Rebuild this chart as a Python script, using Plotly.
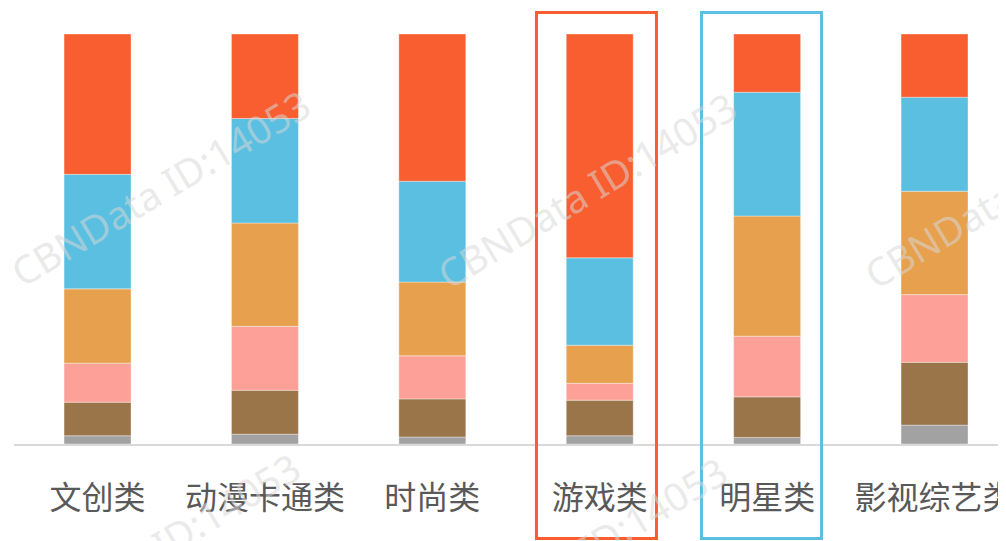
import plotly.graph_objects as go

# ---- data (percent share of each segment) ----
categories = ["文创类", "动漫卡通类", "时尚类", "游戏类", "明星类", "影视综艺类"]
series_names = ["类别A", "类别B", "类别C", "类别D", "类别E", "类别F"]
gray_vals = [2.0, 2.4, 1.7, 2.0, 1.6, 4.6]
brown_vals = [8.2, 10.7, 9.3, 8.7, 9.9, 15.3]
pink_vals = [9.5, 15.6, 10.5, 4.1, 14.8, 16.5]
tan_vals = [18.1, 25.2, 18.0, 9.3, 29.3, 25.2]
blue_vals = [27.9, 25.5, 24.6, 21.3, 30.2, 22.9]
red_vals = [34.2, 20.6, 35.9, 54.6, 14.2, 15.4]

watermark_text = "CBNData ID:14053"

# ---- styles ----
series_values = [gray_vals, brown_vals, pink_vals, tan_vals, blue_vals, red_vals]
series_colors = ["#A3A2A3", "#9A754A", "#FDA097", "#E6A04E", "#5ABFE0", "#F85E2F"]
label_font = "Noto Sans CJK SC, Noto Sans, sans-serif"

# page geometry (the page body adds an 8px offset)
OFF = 8
W, H = 998, 533
PAGE_R, PAGE_B = OFF + W, OFF + H
plot_left, plot_right, plot_top, plot_bottom = 14, 1006, 34, 444

fig = go.Figure()

# stacked 100% bars
totals = [sum(vals[i] for vals in series_values) for i in range(len(categories))]
cum = [0.0] * len(categories)
for name, vals, col in zip(series_names, series_values, series_colors):
    pct = [v / t * 100 for v, t in zip(vals, totals)]
    fig.add_trace(go.Bar(
        x=categories, y=pct, base=list(cum), width=0.4, name=name,
        xaxis="x2", yaxis="y2",
        marker=dict(color=col, line=dict(width=0.6, color="rgba(255,255,255,0.6)")),
        hovertemplate="%{x}<br>" + name + ": %{y:.1f}%<extra></extra>",
        showlegend=False,
    ))
    cum = [c + p for c, p in zip(cum, pct)]

# highlight boxes around 游戏类 and 明星类
box_top, box_bottom = 12.5, min(538.5, PAGE_B - 2)
fig.add_shape(type="rect", xref="x2", yref="y",
              x0=2.622, x1=3.339, y0=box_top, y1=box_bottom,
              line=dict(color="#F85E2F", width=3), layer="above")
fig.add_shape(type="rect", xref="x2", yref="y",
              x0=3.608, x1=4.325, y0=box_top, y1=box_bottom,
              line=dict(color="#5ABFE0", width=3), layer="above")

# translucent watermark tiles (page-pixel centres converted to paper fractions)
wm_cx = [160, 587, 1014, 150, 577]
wm_cy = [187, 190, 190, 550, 554]
for cx, cy in zip(wm_cx, wm_cy):
    fig.add_annotation(
        xref="paper", yref="paper",
        x=(cx - OFF) / W, y=(PAGE_B - cy) / H,
        xanchor="center", yanchor="middle",
        text=watermark_text, showarrow=False, textangle=-31,
        font=dict(family="Noto Sans, sans-serif", size=39, color="rgba(216,216,216,0.55)"),
    )

x2_dom = [(plot_left - OFF) / W, min(1.0, (plot_right - OFF) / W)]
y2_dom = [(PAGE_B - plot_bottom) / H, (PAGE_B - plot_top) / H]
px_per_cat = 167.4
x2_range = [-0.499, -0.499 + (x2_dom[1] - x2_dom[0]) * W / px_per_cat]

fig.update_layout(
    width=W, height=H, autosize=False,
    margin=dict(l=0, r=0, t=0, b=0, pad=0, autoexpand=False),
    paper_bgcolor="white", plot_bgcolor="rgba(0,0,0,0)",
    barmode="overlay",
    xaxis=dict(domain=[0, 1], anchor="y", range=[OFF, PAGE_R], visible=False,
               fixedrange=True, automargin=False),
    yaxis=dict(domain=[0, 1], anchor="x", range=[PAGE_B, OFF], visible=False,
               fixedrange=True, automargin=False),
    xaxis2=dict(
        domain=x2_dom, anchor="y2", type="category",
        categoryorder="array", categoryarray=categories,
        range=x2_range, automargin=False,
        showline=True, linecolor="#D9D9D9", linewidth=2,
        ticks="", showgrid=False, zeroline=False,
        tickfont=dict(family=label_font, size=32, color="#595959"),
        ticklabelstandoff=25, fixedrange=True,
    ),
    yaxis2=dict(domain=y2_dom, anchor="x2", range=[0, 100], visible=False,
                fixedrange=True, automargin=False),
    showlegend=False,
)

fig.write_html("out.html")
